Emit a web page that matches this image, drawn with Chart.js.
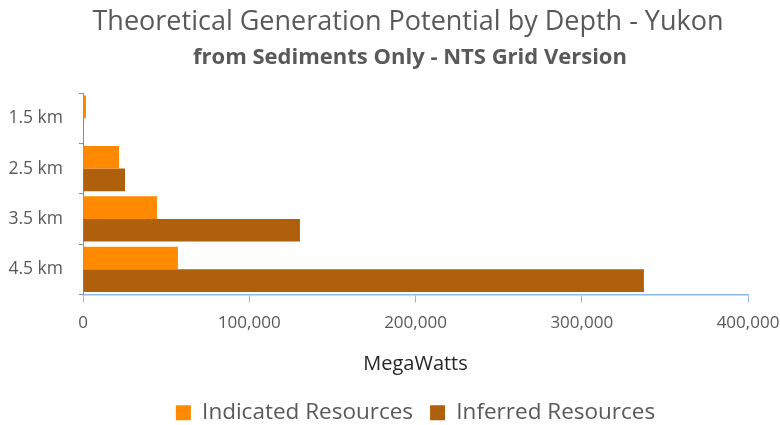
<!DOCTYPE html>
<html>
<head>
<meta charset="utf-8">
<script src="https://cdn.jsdelivr.net/npm/chart.js@4/dist/chart.umd.min.js"></script>
<style>
  html, body { margin: 0; padding: 0; background: #ffffff; }
  #wrap { width: 780px; height: 425px; position: relative; }
</style>
</head>
<body>
<div id="wrap"><canvas id="c" width="780" height="425"></canvas></div>
<script>
// Depth bands and generation potential (MW) per resource class
const depths = ['1.5 km', '2.5 km', '3.5 km', '4.5 km'];
const indicated = [1800, 21700, 44500, 57100];
const inferred = [0, 25300, 130500, 337400];
const xTicks = [0, 100000, 200000, 300000, 400000];
const titleText = 'Theoretical Generation Potential by Depth - Yukon';
const subtitleText = 'from Sediments Only - NTS Grid Version';

const FONT = "'Open Sans', 'Noto Sans', sans-serif";
const GREY = '#595959';

// Two-line heading, centred a little left of the canvas middle
const heading = {
  id: 'heading',
  afterDraw(chart) {
    const ctx = chart.ctx;
    ctx.save();
    ctx.fillStyle = GREY;
    ctx.textAlign = 'center';
    ctx.textBaseline = 'middle';
    ctx.font = "27px " + FONT;
    ctx.fillText(titleText, 408, 22);
    ctx.font = "bold 22px " + FONT;
    ctx.fillText(subtitleText, 410, 58);
    ctx.restore();
  }
};

new Chart(document.getElementById('c'), {
  type: 'bar',
  data: {
    labels: depths,
    datasets: [
      { label: 'Indicated Resources', data: indicated, backgroundColor: '#FF8A00',
        categoryPercentage: 0.9, barPercentage: 1.0 },
      { label: 'Inferred Resources', data: inferred, backgroundColor: '#AF600C',
        categoryPercentage: 0.9, barPercentage: 1.0 }
    ]
  },
  plugins: [heading],
  options: {
    indexAxis: 'y',
    responsive: false,
    animation: false,
    layout: { padding: { left: 0, right: 32, top: 93, bottom: -9 } },
    scales: {
      x: {
        min: 0, max: 400000,
        afterBuildTicks: s => { s.ticks = xTicks.map(v => ({ value: v })); },
        afterFit: s => { s.height = 90; s.paddingRight = 0; s.paddingLeft = 0; },
        ticks: {
          color: GREY, font: { family: FONT, size: 17 }, padding: 10,
          callback: v => Number(v).toLocaleString('en-US')
        },
        grid: { drawOnChartArea: false, color: '#8FB8E6', tickLength: 8 },
        border: { color: '#8FB8E6', width: 1.5 },
        title: { display: true, text: 'MegaWatts', color: '#262626',
          font: { family: FONT, size: 20 }, padding: { top: 0, bottom: 8 } }
      },
      y: {
        afterFit: s => { s.width = 83; },
        ticks: { color: GREY, font: { family: FONT, size: 17.5 }, padding: 16 },
        grid: { drawOnChartArea: false, color: '#8C8C8C', tickLength: 4, offset: true },
        border: { color: '#8C8C8C' }
      }
    },
    plugins: {
      title: { display: false },
      legend: {
        position: 'bottom',
        fullSize: false,
        labels: { color: GREY, font: { family: FONT, size: 22.5 }, boxWidth: 15, boxHeight: 15,
          padding: 17 }
      },
      tooltip: { enabled: false }
    }
  }
});
</script>
</body>
</html>
